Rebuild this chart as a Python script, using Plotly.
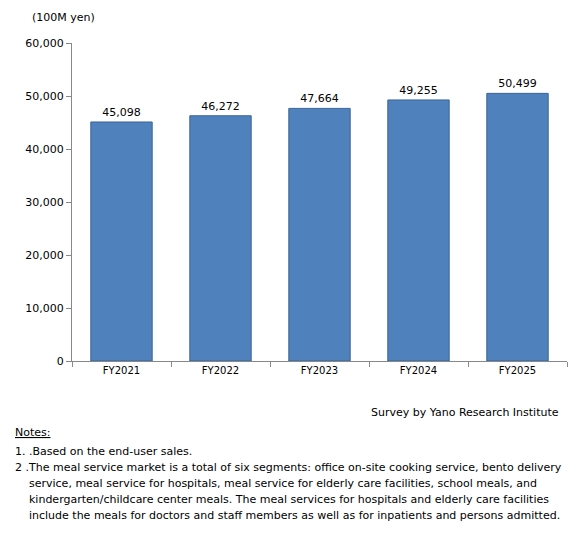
import plotly.graph_objects as go

years = ["FY2021", "FY2022", "FY2023", "FY2024", "FY2025"]
sales = [45098, 46272, 47664, 49255, 50499]
tick_vals = [0, 10000, 20000, 30000, 40000, 50000, 60000]
tick_text = ["0", "10,000", "20,000", "30,000", "40,000", "50,000", "60,000"]
notes = [
    "1. .Based on the end-user sales.",
    "2 .The meal service market is a total of six segments: office on-site cooking service, bento delivery",
    "    service, meal service for hospitals, meal service for elderly care facilities, school meals, and",
    "    kindergarten/childcare center meals. The meal services for hospitals and elderly care facilities",
    "    include the meals for doctors and staff members as well as for inpatients and persons admitted.",
]

FONT = "DejaVu Sans, Noto Sans, sans-serif"

fig = go.Figure(go.Bar(
    x=years, y=sales, width=0.62,
    marker=dict(color="#4F81BD", line=dict(color="#3A6595", width=1)),
    text=[f"{v:,}" for v in sales], textposition="outside",
    textfont=dict(size=11, color="black"), cliponaxis=False,
))

fig.update_layout(
    width=586, height=541, margin=dict(l=64, r=27, t=35, b=188),
    paper_bgcolor="white", plot_bgcolor="white", showlegend=False,
    font=dict(family=FONT, size=11, color="black"),
)
fig.update_xaxes(showline=True, linecolor="#888", ticks="outside", tickson="boundaries",
                 tickcolor="#888", ticklen=5, tickfont=dict(size=10))
fig.update_yaxes(range=[0, 60000], tickvals=tick_vals, ticktext=tick_text, showgrid=False,
                 showline=True, linecolor="#888", ticks="outside", tickcolor="#888", ticklen=5,
                 zeroline=False, tickfont=dict(size=11))


def py(px):
    # convert screenshot pixel row to paper coordinate
    return (361 - px) / 318


def pxx(px):
    return (px - 72) / 495


fig.add_annotation(x=pxx(30), y=py(17), xref="paper", yref="paper", text="(100M yen)",
                   showarrow=False, xanchor="left", yanchor="middle", font=dict(size=11))
fig.add_annotation(x=pxx(561), y=py(412), xref="paper", yref="paper",
                   text="Survey by Yano Research Institute", showarrow=False,
                   xanchor="right", yanchor="middle", font=dict(size=11))
fig.add_annotation(x=pxx(13), y=py(432), xref="paper", yref="paper", text="<u>Notes:</u>",
                   showarrow=False, xanchor="left", yanchor="middle", font=dict(size=11))
for i, line in enumerate(notes):
    fig.add_annotation(x=pxx(13), y=py(451 + i * 16), xref="paper", yref="paper",
                       text=line.replace("  ", "&nbsp;&nbsp;"), showarrow=False,
                       xanchor="left", yanchor="middle", font=dict(size=11))

fig.write_html("out.html")
